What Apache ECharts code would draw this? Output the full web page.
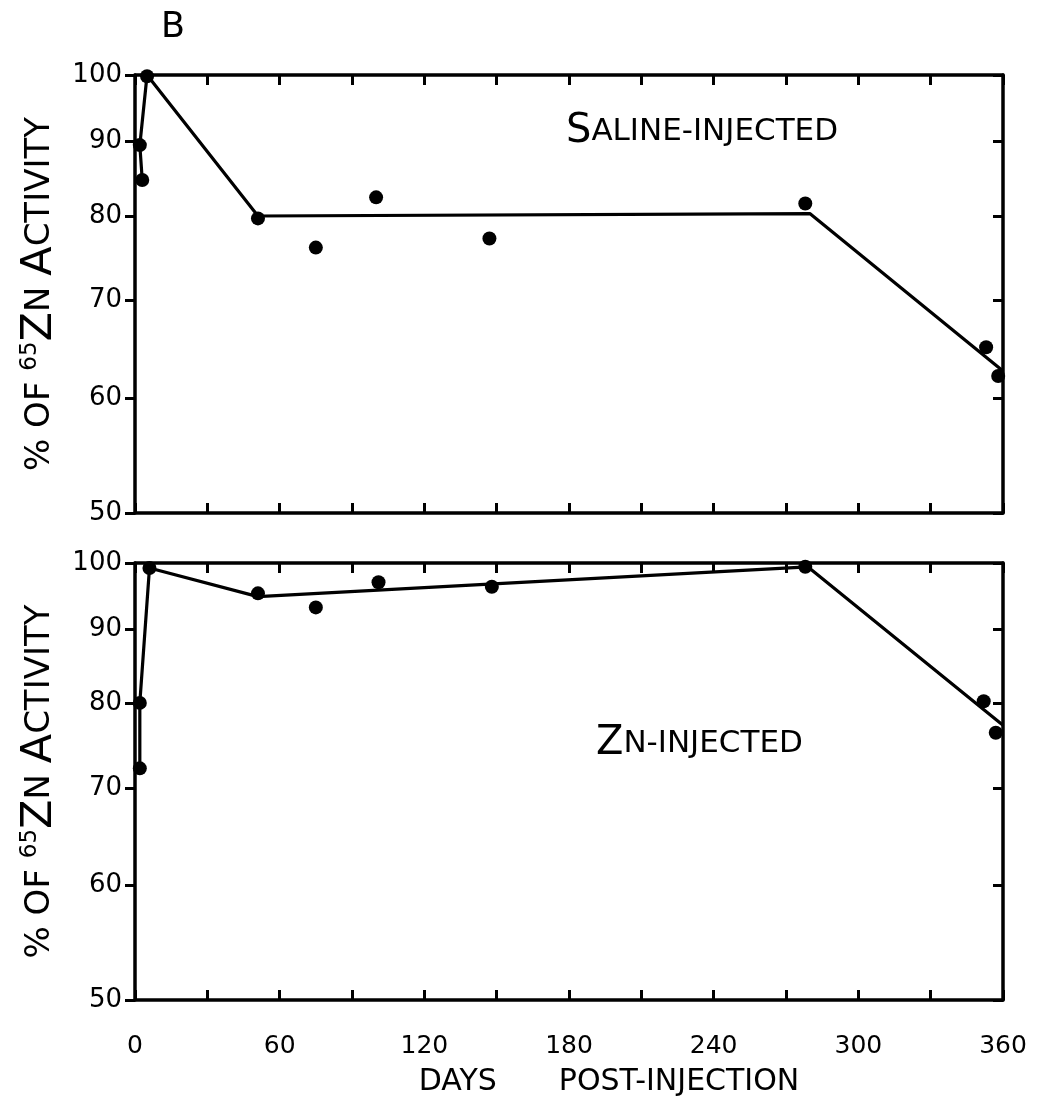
<!DOCTYPE html>
<html>
<head>
<meta charset="utf-8">
<script src="https://cdn.jsdelivr.net/npm/echarts@6/dist/echarts.min.js"></script>
<style>
html,body{margin:0;padding:0;background:#fff;}
#chart{width:1037px;height:1100px;}
</style>
</head>
<body>
<div id="chart"></div>
<script>
// ---- data (days post-injection, % of 65Zn activity) ----
const xTicks = [0, 60, 120, 180, 240, 300, 360];
const yTicks = [50, 60, 70, 80, 90, 100];

const salineDays   = [2, 3, 5, 51, 75, 100, 147, 278, 353, 358];
const salineValues = [89.5, 84.7, 99.8, 79.7, 76.1, 82.4, 77.2, 81.6, 65.0, 62.1];
const salineLineDays   = [3, 2, 5, 51, 280, 360];
const salineLineValues = [84.7, 89.5, 100, 80.0, 80.3, 62.6];

const znDays   = [2, 2, 6, 51, 75, 101, 148, 278, 352, 357];
const znValues = [72.2, 80.1, 99.2, 95.3, 93.2, 97.0, 96.3, 99.4, 80.3, 76.4];
const znLineDays   = [2, 2, 6, 51, 279, 360];
const znLineValues = [72.2, 80.1, 99.2, 94.8, 99.4, 77.3];

const panelTitles = ['SALINE-INJECTED', 'ZN-INJECTED'];

const pair = (xs, ys) => xs.map((x, i) => [x, ys[i]]);

const INK = '#000';
const FONT = '"DejaVu Sans", sans-serif';

const grids = [
  {left: 135, right: 34, top: 75, height: 438},
  {left: 135, right: 34, top: 563, height: 437}
];

function xAxes(gi, withLabels) {
  const common = {
    type: 'value', gridIndex: gi, min: 0, max: 360, interval: 30,
    splitLine: {show: false},
    axisLine: {show: true, onZero: false, lineStyle: {color: INK, width: 3.5}},
    axisTick: {show: true, inside: true, length: 10, lineStyle: {color: INK, width: 3}}
  };
  return [
    Object.assign({}, common, {
      position: 'bottom',
      axisLabel: withLabels ? {
        show: true, color: INK, fontFamily: FONT, fontSize: 25, margin: 34,
        customValues: xTicks, formatter: v => String(v)
      } : {show: false},
      name: withLabels ? '{a|DAYS}{b|POST-INJECTION}' : '',
      nameLocation: 'middle', nameGap: 67,
      nameTextStyle: {
        color: INK, fontFamily: FONT, fontSize: 30,
        rich: {
          a: {fontSize: 30, fontFamily: FONT, color: INK, padding: [0, 0, 0, 80]},
          b: {fontSize: 30, fontFamily: FONT, color: INK, padding: [0, 0, 0, 62]}
        }
      }
    }),
    Object.assign({}, common, {position: 'top', axisLabel: {show: false}})
  ];
}

function yAxes(gi) {
  const common = {
    type: 'log', logBase: 10, gridIndex: gi, min: 50, max: 100,
    splitLine: {show: false}, minorTick: {show: false},
    axisLine: {show: true, onZero: false, lineStyle: {color: INK, width: 3.5}}
  };
  return [
    Object.assign({}, common, {
      position: 'left',
      axisTick: {show: true, inside: false, length: 10, customValues: yTicks, lineStyle: {color: INK, width: 3}},
      axisLabel: {show: true, color: INK, fontFamily: FONT, fontSize: 26, margin: 13, customValues: yTicks},
      name: '{n|% OF }{s|65}{b|Z}{n|N }{b|A}{n|CTIVITY}',
      nameLocation: 'middle', nameRotate: 90, nameGap: 70,
      nameTextStyle: {
        color: INK, fontFamily: FONT,
        rich: {
          n: {fontSize: 34, color: INK, fontFamily: FONT},
          b: {fontSize: 43, color: INK, fontFamily: FONT},
          s: {fontSize: 23, color: INK, fontFamily: FONT, verticalAlign: 'top', padding: [0, 0, 17, 0]}
        }
      }
    }),
    Object.assign({}, common, {
      position: 'right',
      axisTick: {show: true, inside: true, length: 10, customValues: yTicks, lineStyle: {color: INK, width: 3}},
      axisLabel: {show: false}
    })
  ];
}

function scatter(gi, data) {
  return {type: 'scatter', xAxisIndex: gi * 2, yAxisIndex: gi * 2, data: data,
    symbol: 'circle', symbolSize: 14, itemStyle: {color: INK, opacity: 1}, z: 3, silent: true};
}
function line(gi, data) {
  return {type: 'line', xAxisIndex: gi * 2, yAxisIndex: gi * 2, data: data,
    showSymbol: false, lineStyle: {color: INK, width: 3.2}, z: 2, silent: true, animation: false};
}

function titleStyle(t) {
  return {
    text: '{b|' + t.charAt(0) + '}{n|' + t.slice(1) + '}',
    rich: {
      b: {fontSize: 40, fontFamily: FONT, fill: INK},
      n: {fontSize: 31, fontFamily: FONT, fill: INK}
    }
  };
}

const chart = echarts.init(document.getElementById('chart'), null, {renderer: 'canvas'});
chart.setOption({
  backgroundColor: '#fff',
  animation: false,
  grid: grids,
  xAxis: [].concat(xAxes(0, false), xAxes(1, true)),
  yAxis: [].concat(yAxes(0), yAxes(1)),
  series: [
    line(0, pair(salineLineDays, salineLineValues)),
    scatter(0, pair(salineDays, salineValues)),
    line(1, pair(znLineDays, znLineValues)),
    scatter(1, pair(znDays, znValues))
  ],
  graphic: [
    {type: 'text', left: 161, top: 10, style: {text: 'B', fontSize: 35, fontFamily: FONT, fill: INK}},
    {type: 'text', left: 566, top: 112, style: titleStyle(panelTitles[0])},
    {type: 'text', left: 596, top: 724, style: titleStyle(panelTitles[1])}
  ]
});
</script>
</body>
</html>
